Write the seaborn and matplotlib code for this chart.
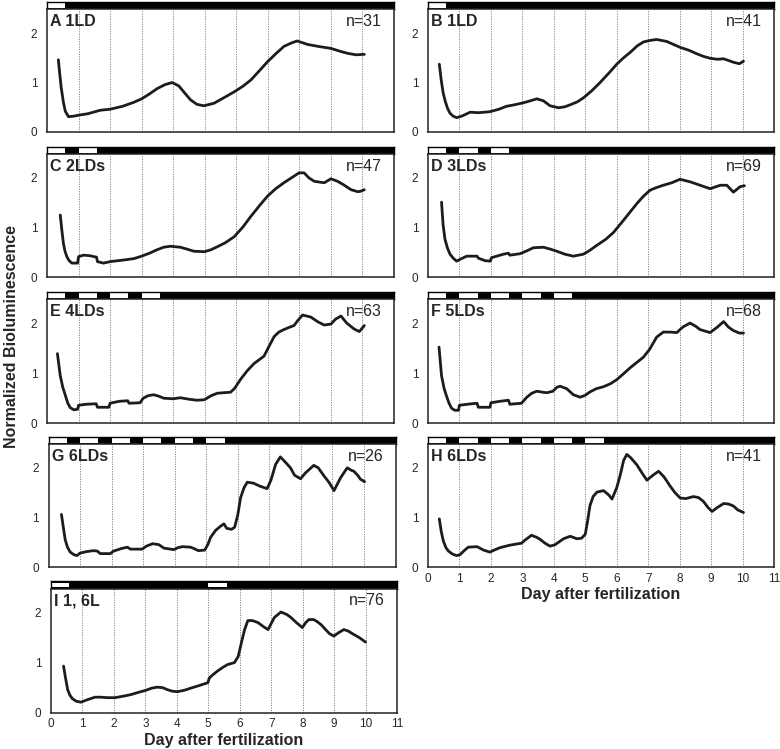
import matplotlib
matplotlib.use('Agg')  # no display
import matplotlib.pyplot as plt
import seaborn as sns

# =====================================================================
# DATA: day after fertilization vs normalized signal
# =====================================================================
A_t = [0.36, 0.40, 0.45, 0.52, 0.58, 0.68, 0.85, 1.0, 1.3, 1.69, 2.0, 2.4, 2.75, 3.0, 3.25, 3.5,
       3.75, 3.97, 4.18, 4.35, 4.55, 4.75, 4.97, 5.29, 5.6, 5.93, 6.2, 6.46, 6.75, 6.99, 7.25,
       7.51, 7.75, 7.93, 8.26, 8.6, 9.0, 9.3, 9.53, 9.8, 10.06]
A_y = [1.46, 1.2, 0.9, 0.6, 0.42, 0.31, 0.32, 0.34, 0.37, 0.44, 0.46, 0.52, 0.6, 0.67, 0.77, 0.88,
       0.96, 1.0, 0.93, 0.8, 0.65, 0.56, 0.53, 0.58, 0.69, 0.81, 0.92, 1.05, 1.25, 1.42, 1.58,
       1.73, 1.8, 1.84, 1.77, 1.73, 1.69, 1.63, 1.59, 1.56, 1.57]

B_t = [0.36, 0.42, 0.48, 0.54, 0.62, 0.7, 0.8, 0.91, 1.07, 1.34, 1.6, 1.97, 2.25, 2.5, 2.75, 3.03,
       3.25, 3.46, 3.67, 3.88, 4.15, 4.35, 4.52, 4.75, 4.94, 5.2, 5.47, 5.75, 6.0, 6.2, 6.43,
       6.65, 6.85, 7.05, 7.27, 7.59, 8.02, 8.3, 8.55, 8.75, 8.97, 9.2, 9.4, 9.71, 9.9, 10.03]
B_y = [1.37, 1.05, 0.8, 0.64, 0.48, 0.38, 0.32, 0.29, 0.32, 0.4, 0.39, 0.41, 0.46, 0.52, 0.55, 0.59,
       0.63, 0.67, 0.63, 0.53, 0.49, 0.51, 0.55, 0.61, 0.69, 0.83, 1.0, 1.19, 1.37, 1.49, 1.61,
       1.74, 1.82, 1.85, 1.87, 1.83, 1.71, 1.65, 1.58, 1.53, 1.49, 1.47, 1.48, 1.41, 1.38, 1.43]

C_t = [0.42, 0.47, 0.52, 0.57, 0.63, 0.7, 0.79, 0.97, 1.0, 1.16, 1.35, 1.57, 1.6, 1.79, 2.0, 2.4,
       2.75, 3.0, 3.25, 3.49, 3.7, 3.91, 4.23, 4.45, 4.65, 4.99, 5.2, 5.4, 5.65, 5.93, 6.2, 6.46,
       6.75, 6.99, 7.25, 7.51, 7.75, 7.99, 8.15, 8.3, 8.47, 8.79, 9.0, 9.21, 9.4, 9.64, 9.85,
       9.95, 10.06]
C_y = [1.25, 0.95, 0.68, 0.52, 0.41, 0.33, 0.28, 0.28, 0.41, 0.44, 0.43, 0.40, 0.31, 0.28, 0.31, 0.34,
       0.37, 0.42, 0.48, 0.55, 0.6, 0.62, 0.6, 0.56, 0.52, 0.51, 0.55, 0.61, 0.69, 0.81, 1.0, 1.22,
       1.45, 1.63, 1.78, 1.9, 2.0, 2.1, 2.1, 2.0, 1.93, 1.9, 1.98, 1.93, 1.86, 1.76, 1.72,
       1.73, 1.76]

D_t = [0.43, 0.48, 0.54, 0.62, 0.7, 0.8, 0.91, 1.0, 1.23, 1.56, 1.6, 1.81, 1.98, 2.02, 2.4, 2.56,
       2.6, 2.93, 3.15, 3.35, 3.67, 3.9, 4.09, 4.35, 4.62, 4.94, 5.15, 5.37, 5.65, 5.9, 6.21,
       6.45, 6.64, 6.85, 7.06, 7.25, 7.48, 7.75, 8.01, 8.33, 8.65, 8.97, 9.29, 9.5, 9.71, 9.92,
       10.06]
D_y = [1.51, 1.05, 0.76, 0.58, 0.46, 0.38, 0.32, 0.35, 0.42, 0.42, 0.38, 0.33, 0.32, 0.39, 0.46, 0.48,
       0.44, 0.47, 0.53, 0.59, 0.6, 0.56, 0.52, 0.46, 0.42, 0.46, 0.54, 0.64, 0.76, 0.9, 1.14,
       1.33, 1.48, 1.63, 1.75, 1.8, 1.85, 1.9, 1.97, 1.92, 1.85, 1.78, 1.85, 1.85, 1.71, 1.82,
       1.84]

E_t = [0.33, 0.42, 0.5, 0.58, 0.66, 0.74, 0.85, 0.97, 1.0, 1.25, 1.56, 1.6, 1.96, 2.0, 2.3, 2.56,
       2.6, 2.95, 3.05, 3.2, 3.38, 3.55, 3.7, 4.0, 4.23, 4.5, 4.76, 4.99, 5.2, 5.4, 5.6, 5.82,
       5.95, 6.14, 6.35, 6.56, 6.75, 6.88, 7.05, 7.2, 7.35, 7.51, 7.7, 7.83, 7.95, 8.1, 8.36,
       8.6, 8.79, 9.0, 9.15, 9.32, 9.5, 9.74, 9.9, 10.06]
E_y = [1.39, 0.95, 0.72, 0.56, 0.4, 0.31, 0.27, 0.28, 0.36, 0.38, 0.39, 0.32, 0.32, 0.4, 0.44, 0.45,
       0.4, 0.41, 0.5, 0.55, 0.57, 0.54, 0.5, 0.49, 0.51, 0.48, 0.46, 0.47, 0.55, 0.6, 0.61, 0.62,
       0.7, 0.88, 1.05, 1.19, 1.28, 1.34, 1.55, 1.73, 1.82, 1.87, 1.92, 1.95, 2.05, 2.16, 2.12,
       2.02, 1.96, 1.98, 2.08, 2.14, 2.0, 1.88, 1.83, 1.95]

F_t = [0.35, 0.43, 0.51, 0.59, 0.67, 0.75, 0.85, 0.97, 1.0, 1.25, 1.56, 1.6, 1.97, 2.0, 2.3, 2.56,
       2.6, 2.97, 3.14, 3.3, 3.46, 3.65, 3.78, 3.97, 4.1, 4.2, 4.41, 4.62, 4.84, 5.0, 5.16, 5.35,
       5.58, 5.8, 6.0, 6.2, 6.43, 6.65, 6.85, 7.05, 7.27, 7.48, 7.7, 7.91, 8.1, 8.33, 8.5, 8.65,
       8.97, 9.2, 9.4, 9.55, 9.71, 9.9, 10.03]
F_y = [1.52, 0.95, 0.7, 0.54, 0.4, 0.3, 0.26, 0.26, 0.36, 0.38, 0.4, 0.32, 0.32, 0.41, 0.44, 0.46,
       0.38, 0.4, 0.52, 0.6, 0.64, 0.62, 0.61, 0.64, 0.72, 0.74, 0.69, 0.57, 0.52, 0.56, 0.63, 0.69,
       0.73, 0.79, 0.87, 0.98, 1.11, 1.22, 1.32, 1.48, 1.72, 1.82, 1.82, 1.81, 1.92, 2.0, 1.94, 1.87,
       1.81, 1.92, 2.03, 1.92, 1.85, 1.8, 1.8]

G_t = [0.41, 0.47, 0.53, 0.6, 0.69, 0.8, 0.9, 1.0, 1.2, 1.43, 1.55, 1.64, 1.96, 2.06, 2.3, 2.5,
       2.6, 2.97, 3.1, 3.3, 3.5, 3.66, 3.98, 4.1, 4.25, 4.5, 4.62, 4.75, 4.95, 5.05, 5.14, 5.3,
       5.45, 5.56, 5.65, 5.8, 5.9, 6.0, 6.09, 6.2, 6.3, 6.5, 6.7, 6.93, 7.05, 7.2, 7.35, 7.5,
       7.67, 7.8, 7.99, 8.15, 8.41, 8.55, 8.73, 8.9, 9.05, 9.26, 9.47, 9.6, 9.68, 9.8, 9.89, 10.02]
G_y = [1.06, 0.8, 0.55, 0.4, 0.3, 0.25, 0.23, 0.28, 0.31, 0.33, 0.32, 0.27, 0.27, 0.32, 0.37, 0.4,
       0.36, 0.36, 0.42, 0.47, 0.45, 0.38, 0.35, 0.39, 0.41, 0.4, 0.37, 0.33, 0.34, 0.45, 0.6, 0.74,
       0.82, 0.87, 0.78, 0.76, 0.8, 1.05, 1.4, 1.6, 1.71, 1.69, 1.63, 1.58, 1.75, 2.07, 2.22, 2.12,
       2.0, 1.85, 1.78, 1.9, 2.05, 2.0, 1.84, 1.7, 1.54, 1.8, 2.0, 1.95, 1.93, 1.85, 1.77, 1.72]

H_t = [0.36, 0.42, 0.49, 0.57, 0.65, 0.78, 0.91, 1.02, 1.15, 1.28, 1.56, 1.77, 1.97, 2.1, 2.29, 2.6,
       2.97, 3.12, 3.29, 3.45, 3.56, 3.72, 3.88, 4.04, 4.31, 4.52, 4.73, 4.88, 5.0, 5.08, 5.15, 5.25,
       5.37, 5.58, 5.75, 5.85, 6.0, 6.11, 6.22, 6.32, 6.45, 6.64, 6.8, 6.96, 7.15, 7.33, 7.5, 7.7,
       7.85, 8.02, 8.2, 8.44, 8.6, 8.76, 8.9, 9.03, 9.2, 9.4, 9.55, 9.71, 9.85, 10.03]
H_y = [0.97, 0.72, 0.52, 0.39, 0.32, 0.26, 0.23, 0.25, 0.33, 0.4, 0.41, 0.34, 0.3, 0.34, 0.39, 0.44,
       0.48, 0.56, 0.64, 0.6, 0.56, 0.48, 0.42, 0.45, 0.57, 0.62, 0.57, 0.58, 0.66, 0.95, 1.24, 1.42,
       1.51, 1.54, 1.45, 1.37, 1.6, 1.85, 2.15, 2.27, 2.2, 2.06, 1.9, 1.75, 1.85, 1.93, 1.82, 1.63,
       1.5, 1.39, 1.38, 1.42, 1.4, 1.32, 1.2, 1.12, 1.2, 1.28, 1.27, 1.23, 1.15, 1.1]

I_t = [0.4, 0.46, 0.53, 0.6, 0.68, 0.8, 0.95, 1.16, 1.4, 1.58, 1.8, 2.03, 2.3, 2.53, 2.8, 3.03,
       3.2, 3.38, 3.55, 3.7, 3.85, 4.02, 4.25, 4.44, 4.7, 4.99, 5.03, 5.15, 5.29, 5.45, 5.61, 5.83,
       5.95, 6.04, 6.15, 6.26, 6.4, 6.58, 6.75, 6.9, 7.0, 7.1, 7.31, 7.5, 7.63, 7.8, 7.99, 8.1,
       8.2, 8.35, 8.46, 8.6, 8.73, 8.85, 8.99, 9.15, 9.31, 9.45, 9.63, 9.8, 10.0]
I_y = [0.93, 0.7, 0.46, 0.35, 0.28, 0.23, 0.21, 0.26, 0.31, 0.31, 0.3, 0.3, 0.33, 0.36, 0.41, 0.45,
       0.49, 0.51, 0.5, 0.46, 0.43, 0.42, 0.45, 0.49, 0.54, 0.6, 0.69, 0.76, 0.83, 0.9, 0.96, 1.0,
       1.12, 1.36, 1.65, 1.84, 1.84, 1.8, 1.72, 1.66, 1.78, 1.9, 2.01, 1.96, 1.9, 1.8, 1.7, 1.8,
       1.86, 1.86, 1.82, 1.75, 1.66, 1.58, 1.53, 1.6, 1.66, 1.63, 1.56, 1.5, 1.41]

# start day of each light phase (light bar on top of each panel)
LIGHT_LEN = 0.58   # 14 h light, in days
A_light = [0]
B_light = [0]
C_light = [0, 1]
D_light = [0, 1, 2]
E_light = [0, 1, 2, 3]
F_light = [0, 1, 2, 3, 4]
G_light = [0, 1, 2, 3, 4, 5]
H_light = [0, 1, 2, 3, 4, 5]
I_light = [0, 5]

titles = ["A 1LD", "B 1LD", "C 2LDs", "D 3LDs", "E 4LDs", "F 5LDs", "G 6LDs", "H 6LDs", "I 1, 6L"]
n_labels = ["n=31", "n=41", "n=47", "n=69", "n=63", "n=68", "n=26", "n=41", "n=76"]
series = [(A_t, A_y, A_light), (B_t, B_y, B_light), (C_t, C_y, C_light),
          (D_t, D_y, D_light), (E_t, E_y, E_light), (F_t, F_y, F_light),
          (G_t, G_y, G_light), (H_t, H_y, H_light), (I_t, I_y, I_light)]

# =====================================================================
# LAYOUT (pixels of a 780x749 canvas)
# =====================================================================
W, H = 780, 749
ROW_TOP = [9.3, 154, 299, 444, 588.5]      # top of data area (below LD bar)
ROW_BOT = [132, 277, 423.3, 567, 712.7]    # x-axis line
BAR_H = 7.4
# left edge / width per panel
LEFTS = [47, 428, 47, 428, 47, 428, 48.5, 428, 51]
WIDTHS = [347, 346, 347, 346, 347, 346, 347, 346, 346]

sns.set_style('white')
plt.rcParams['font.family'] = ['Liberation Sans', 'DejaVu Sans']

fig = plt.figure(figsize=(W / 100, H / 100), dpi=100)


def frac(left, top, width, height):
    return [left / W, 1 - (top + height) / H, width / W, height / H]


for i, (title, nlab, (t, y, lights)) in enumerate(zip(titles, n_labels, series)):
    row = i // 2
    top, bot = ROW_TOP[row], ROW_BOT[row]
    left, width = LEFTS[i], WIDTHS[i]
    bottom_panel = title[0] in ("H", "I")

    # --- light/dark bar ---
    bax = fig.add_axes(frac(left, top - BAR_H, width, BAR_H))
    bax.set_facecolor('black')
    bax.barh(0.5, LIGHT_LEN, left=lights, height=0.62, color='white', edgecolor='none')
    bax.set_xlim(0, 11)
    bax.set_ylim(0, 1)
    bax.set_xticks([])
    bax.set_yticks([])
    for s in bax.spines.values():
        s.set_color('black')
        s.set_linewidth(1.0)

    # --- data panel ---
    ax = fig.add_axes(frac(left, top, width, bot - top))
    for d in range(1, 11):
        ax.axvline(d, color='#777777', lw=0.6, ls=(0, (1.5, 1.5)), zorder=1)
    sns.lineplot(x=t, y=y, ax=ax, color='#1c1c1c', lw=2.0, estimator=None, sort=False, zorder=3)

    ax.set_xlim(0, 11)
    ax.set_ylim(0, 2.48)
    ax.set_yticks([0, 1, 2])
    ax.set_xticks(range(12))
    ax.tick_params(axis='y', labelsize=8.5, length=2, pad=5, color='#999999')
    if bottom_panel:
        ax.tick_params(axis='x', labelsize=8.5, length=0, pad=4)
        ax.set_xlabel('Day after fertilization', fontsize=11.5, fontweight='bold', labelpad=2)
    else:
        ax.tick_params(axis='x', length=0, labelbottom=False)
    for s in ax.spines.values():
        s.set_color('#222222')
        s.set_linewidth(1.1)

    ax.text(0.01, 0.96, title, transform=ax.transAxes, ha='left', va='top',
            fontsize=11.5, fontweight='bold')
    ax.text(0.965, 0.96, nlab, transform=ax.transAxes, ha='right', va='top', fontsize=11.5)

fig.text(12 / W, 1 - 336 / H, 'Normalized Bioluminescence', rotation=90,
         ha='center', va='center', fontsize=11.5, fontweight='bold')

fig.savefig('out.png', dpi=100)
